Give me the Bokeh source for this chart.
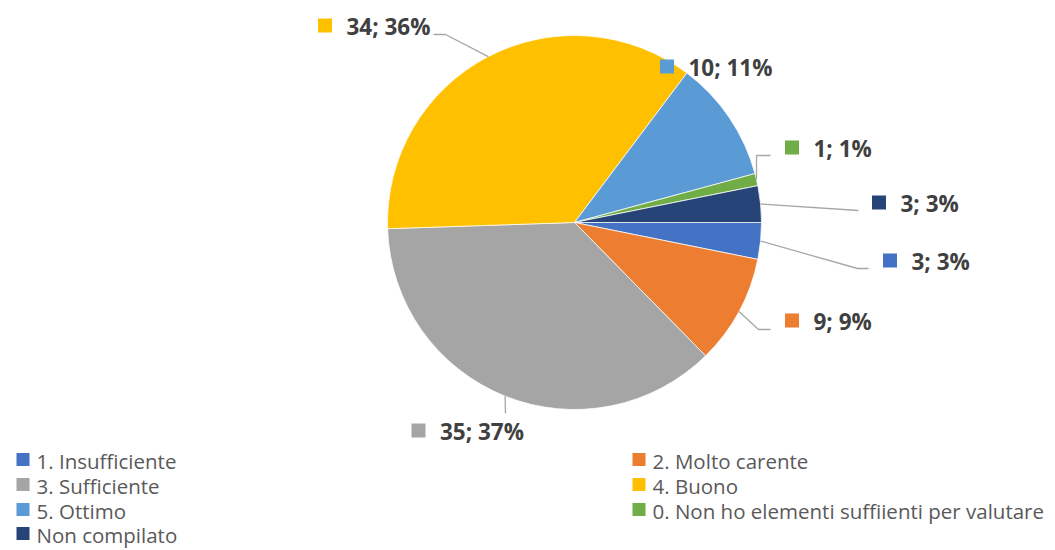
import math
from bokeh.plotting import figure
from bokeh.models import Range1d
from bokeh.core.properties import value
from bokeh.embed import file_html
from bokeh.resources import INLINE

# ---- data ----
categories = ["1. Insufficiente", "2. Molto carente", "3. Sufficiente", "4. Buono",
              "5. Ottimo", "0. Non ho elementi suffiienti per valutare", "Non compilato"]
counts = [3, 9, 35, 34, 10, 1, 3]
colors = ["#4472C4", "#ED7D31", "#A5A5A5", "#FFC000", "#5B9BD5", "#70AD47", "#264478"]

# ---- layout (screen px) ----
W, H = 1055, 550
CX, CY, R = 574, 222, 187
# label anchors: (square centre x, centre y)
label_pos = [(889.5, 260), (791.5, 320), (418, 430), (324.5, 25),
             (666.5, 66), (791.5, 147), (878.5, 202)]
# leader line extra points after slice edge (screen coords); None = no leader
leader_pts = [[(857, 268), (868, 268)],
              [(758, 329), (770, 329)],
              [(505, 413)],
              [(445, 34), (433, 34)],
              None,
              [(756, 155), (770, 155)],
              [(858, 210)]]
legend_pos = [(16, 459), (632, 459), (16, 484), (632, 484), (16, 509), (632, 509), (16, 533)]


def Y(ys):
    return H - ys


p = figure(width=W, height=H, output_backend="svg", toolbar_location=None,
           x_range=Range1d(0, W), y_range=Range1d(0, H), min_border=0)
p.axis.visible = False
p.grid.visible = False
p.outline_line_color = None
p.background_fill_color = "white"
p.border_fill_color = "white"

total = sum(counts)
cum = 0
starts, ends, mids = [], [], []
for v in counts:
    a0 = -cum / total * 2 * math.pi
    a1 = -(cum + v) / total * 2 * math.pi
    starts.append(a1)
    ends.append(a0)
    mids.append((a0 + a1) / 2)
    cum += v

p.wedge(x=CX, y=Y(CY), radius=R, start_angle=starts, end_angle=ends,
        direction="anticlock", fill_color=colors, line_color="white", line_width=0.75)

# leader lines
xs, ys = [], []
for m, pts in zip(mids, leader_pts):
    if pts is None:
        continue
    ex = CX + R * math.cos(m)
    ey = Y(CY) + R * math.sin(m)
    xs.append([ex] + [q[0] for q in pts])
    ys.append([ey] + [Y(q[1]) for q in pts])
p.multi_line(xs=xs, ys=ys, line_color="#A6A6A6", line_width=1.3)

# data labels
labels = [f"{v}; {round(v / total * 100)}%" for v in counts]
sq_x = [lp[0] for lp in label_pos]
sq_y = [Y(lp[1]) for lp in label_pos]
p.rect(x=sq_x, y=sq_y, width=14, height=14, fill_color=colors, line_color=None)
p.text(x=[x + 21.5 for x in sq_x], y=[y - 1 for y in sq_y], text=labels,
       text_font=value("Open Sans"), text_font_style="bold", text_font_size="22.5px",
       text_color="#404040", text_baseline="middle", text_align="left")

# legend
lx = [lp[0] + 6.5 for lp in legend_pos]
ly = [Y(lp[1]) for lp in legend_pos]
p.rect(x=lx, y=ly, width=13, height=13, fill_color=colors, line_color=None)
p.text(x=[lp[0] + 20 for lp in legend_pos], y=[y - 1 for y in ly], text=categories,
       text_font=value("Open Sans"), text_font_size="20.5px", text_color="#595959",
       text_baseline="middle", text_align="left")

open("out.html", "w").write(file_html(p, INLINE))
